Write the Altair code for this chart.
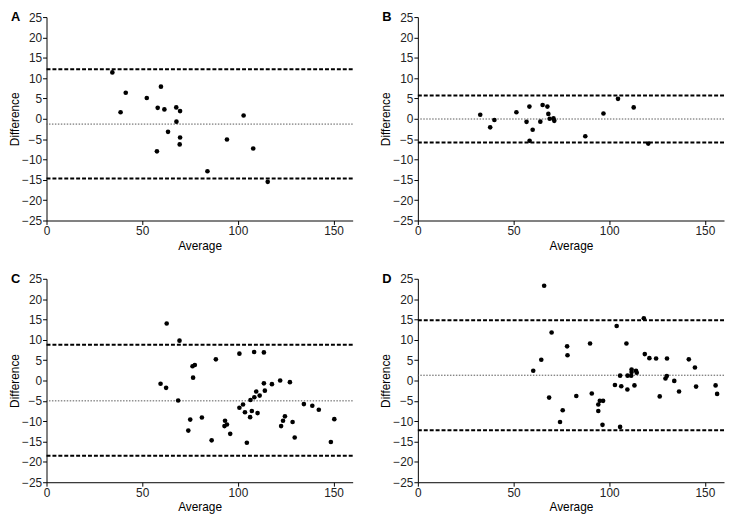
import altair as alt
import pandas as pd

FONT = "Liberation Sans"

# ---------------- Panel A ----------------
A_avg = [34.4, 41.4, 38.7, 52.4, 59.8, 58.1, 61.6, 67.8, 69.8, 67.9, 63.5, 69.8, 69.6, 57.7, 84.1, 94.3, 103.0, 108.0, 115.6]
A_diff = [11.4, 6.4, 1.6, 5.1, 7.9, 2.7, 2.3, 2.8, 1.9, -0.7, -3.2, -4.6, -6.3, -8.0, -12.9, -5.1, 0.8, -7.3, -15.5]
A_upper, A_mean, A_lower = 12.2, -1.3, -14.7

# ---------------- Panel B ----------------
B_avg = [32.6, 37.8, 40.0, 51.5, 56.8, 58.3, 58.4, 60.0, 64.0, 65.2, 67.7, 68.2, 68.9, 70.9, 71.3, 87.5, 97.0, 104.6, 112.8, 120.4]
B_diff = [1.0, -2.1, -0.3, 1.6, -0.75, 3.0, -5.4, -2.7, -0.7, 3.4, 3.0, 1.2, 0.0, 0.1, -0.5, -4.3, 1.3, 4.9, 2.8, -6.1]
B_upper, B_mean, B_lower = 5.7, -0.05, -5.8

# ---------------- Panel C ----------------
C_avg = [62.8, 69.5, 59.6, 62.5, 68.8, 76.3, 77.5, 76.6, 75.1, 74.1, 81.2, 86.3, 88.5, 93.3, 93.0, 94.3, 96.0,
         100.8, 100.8, 102.7, 103.7, 104.7, 106.6, 106.4, 107.3, 108.5, 108.6, 109.6, 110.3, 111.4, 113.6, 113.6,
         114.1, 117.8, 122.1, 122.6, 123.6, 124.6, 127.2, 128.6, 129.7, 134.5, 138.9, 142.3, 148.6, 150.4]
C_diff = [14.0, 9.8, -0.8, -1.8, -4.9, 3.5, 3.8, 0.7, -9.6, -12.3, -9.1, -14.7, 5.2, -9.9, -11.2, -10.8, -13.1,
          6.6, -6.7, -5.9, -7.8, -15.3, -4.8, -9.0, -7.5, 7.0, -4.1, -2.7, -8.0, -3.7, 6.9, -0.7,
          -2.5, -0.9, 0.0, -11.2, -9.9, -8.8, -0.4, -10.2, -14.0, -5.8, -6.2, -7.2, -15.1, -9.5]
C_upper, C_mean, C_lower = 8.8, -5.0, -18.5

# ---------------- Panel D ----------------
D_avg = [66.0, 60.3, 64.5, 69.9, 68.6, 78.0, 78.2, 75.7, 74.3, 82.8, 90.0, 90.9, 94.3, 94.3, 95.1, 96.8, 96.5,
         103.9, 118.1, 109.0, 105.7, 103.0, 106.3, 105.7, 109.5, 109.6, 111.5, 111.7, 111.7, 113.2, 114.0, 114.4,
         118.6, 121.0, 124.5, 126.4, 130.2, 129.4, 130.1, 134.0, 136.5, 141.6, 144.8, 145.4, 155.6, 156.4]
D_diff = [23.3, 2.4, 5.1, 11.8, -4.2, 8.4, 6.2, -7.3, -10.2, -3.8, 9.1, -3.2, -7.5, -5.9, -5.0, -5.0, -10.9,
          13.4, 15.3, 9.1, 1.2, -1.1, -1.4, -11.4, -2.2, 1.2, 1.2, 2.7, 2.1, -1.2, 2.4, 1.9,
          6.5, 5.5, 5.4, -3.9, 5.4, 0.5, 1.1, -0.1, -2.7, 5.2, 3.2, -1.5, -1.2, -3.3]
D_upper, D_mean, D_lower = 14.8, 1.3, -12.2

X_TICKS = [0, 50, 100, 150]
Y_TICKS = [-25, -20, -15, -10, -5, 0, 5, 10, 15, 20, 25]

W, H = 310, 206


def panel(letter, avg, diff, upper, mean, lower):
    pts = pd.DataFrame({"Average": avg, "Difference": diff})
    lim = pd.DataFrame({"Difference": [upper, lower]})
    mn = pd.DataFrame({"Difference": [mean]})
    lab = pd.DataFrame({"t": [letter]})

    x = alt.X("Average:Q", scale=alt.Scale(domain=[0, 160], nice=False, zero=False),
              axis=alt.Axis(values=X_TICKS, title="Average", format="d", titlePadding=4))
    y = alt.Y("Difference:Q", scale=alt.Scale(domain=[-25, 25], nice=False, zero=False),
              axis=alt.Axis(values=Y_TICKS, title="Difference", format="d", titlePadding=0))

    mean_rule = alt.Chart(mn).mark_rule(color="#555555", strokeWidth=1, strokeDash=[1.5, 1.5]).encode(y=y)
    lim_rule = alt.Chart(lim).mark_rule(color="black", strokeWidth=2, strokeDash=[4, 2]).encode(y=y)
    points = alt.Chart(pts).mark_circle(size=22, color="black", opacity=1).encode(x=x, y=y)
    letter_txt = alt.Chart(lab).mark_text(
        align="left", baseline="alphabetic", fontSize=13, fontWeight="bold", font=FONT, color="black"
    ).encode(x=alt.value(-36), y=alt.value(4), text="t:N")

    return alt.layer(mean_rule, lim_rule, points, letter_txt).properties(width=W, height=H)


pA = panel("A", A_avg, A_diff, A_upper, A_mean, A_lower)
pB = panel("B", B_avg, B_diff, B_upper, B_mean, B_lower)
pC = panel("C", C_avg, C_diff, C_upper, C_mean, C_lower)
pD = panel("D", D_avg, D_diff, D_upper, D_mean, D_lower)

chart = alt.vconcat(
    alt.hconcat(pA, pB, spacing=26),
    alt.hconcat(pC, pD, spacing=26),
    spacing=22,
).configure_view(stroke=None).configure_axis(
    grid=False,
    domainColor="black",
    domainWidth=1,
    tickColor="black",
    tickSize=4,
    labelFont=FONT,
    labelFontSize=12,
    labelColor="#222222",
    labelPadding=1,
    labelFlush=False,
    titleFont=FONT,
    titleFontSize=12,
    titleFontWeight="normal",
    titleColor="black",
).properties(padding=0, background="white")

chart.save("out.html", embed_options={"renderer": "svg", "actions": False})
